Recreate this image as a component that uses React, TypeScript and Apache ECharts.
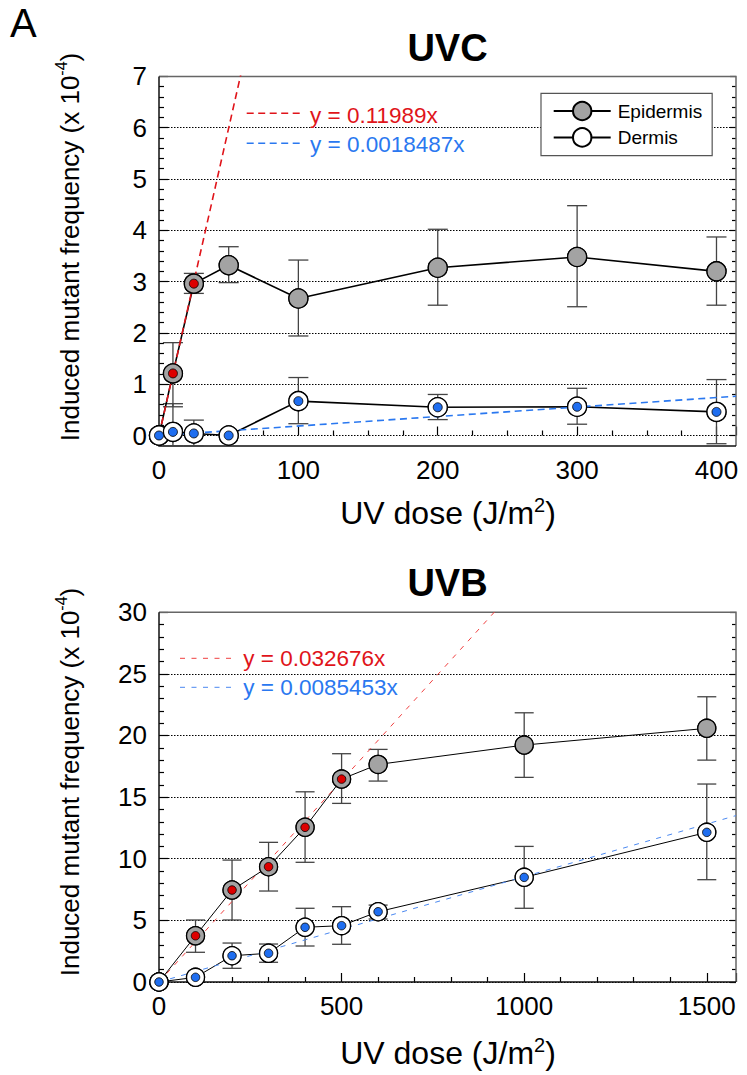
import React, { useEffect, useRef } from "react";
import * as echarts from "echarts";

const FONT = '"Liberation Sans", Arial, Helvetica, sans-serif';

// ---------- UVC data ----------
const uvcDoses = [0, 10, 25, 50, 100, 200, 300, 400];
const uvcEpi = [0, 1.21, 2.96, 3.32, 2.67, 3.27, 3.48, 3.2];
const uvcEpiLo = [0, 0.56, 2.77, 2.98, 1.94, 2.54, 2.51, 2.54];
const uvcEpiHi = [0, 1.81, 3.16, 3.68, 3.42, 4.02, 4.48, 3.87];
const uvcDerm = [0, 0.07, 0.04, 0, 0.67, 0.55, 0.56, 0.46];
const uvcDermLo = [0, -0.2, -0.2, 0, 0.23, 0.31, 0.22, -0.16];
const uvcDermHi = [0, 0.62, 0.3, 0, 1.13, 0.8, 0.92, 1.09];
const uvcFitDoses = [10, 25];
const uvcSlopeEpi = 0.11989;
const uvcSlopeDerm = 0.0018487;
const uvcEqEpi = "y = 0.11989x";
const uvcEqDerm = "y = 0.0018487x";

// ---------- UVB data ----------
const uvbDoses = [0, 100, 200, 300, 400, 500, 600, 1000, 1500];
const uvbEpi = [0, 3.75, 7.46, 9.35, 12.55, 16.46, 17.65, 19.22, 20.58];
const uvbEpiLo = [0, 2.41, 5.03, 7.38, 9.71, 14.49, 16.3, 16.6, 18.0];
const uvbEpiHi = [0, 5.03, 9.89, 11.33, 15.43, 18.52, 18.87, 21.84, 23.14];
const uvbDerm = [0, 0.38, 2.13, 2.33, 4.44, 4.57, 5.7, 8.49, 12.14];
const uvbDermLo = [0, 0.38, 1.11, 1.6, 2.92, 3.06, 5.11, 5.98, 8.3];
const uvbDermHi = [0, 0.38, 3.16, 3.08, 5.98, 6.11, 6.24, 11.0, 16.06];
const uvbFitDoses = [100, 200, 300, 400, 500];
const uvbSlopeEpi = 0.032676;
const uvbSlopeDerm = 0.0085453;
const uvbEqEpi = "y = 0.032676x";
const uvbEqDerm = "y = 0.0085453x";

// axis ranges
const uvcX = { min: 0, max: 414, interval: 100, minorSplit: 4 };
const uvcY = { min: 0, max: 7, interval: 1, minorSplit: 5 };
const uvbX = { min: 0, max: 1580, interval: 500, minorSplit: 5 };
const uvbY = { min: 0, max: 30, interval: 5, minorSplit: 5 };

const RED = "#e0141a";
const BLUE = "#2a78f0";
const DOT_BLUE = "#1f6ef0";
const GRAY = "#a3a3a3";

const pts = (xs: number[], ys: number[]) => xs.map((x, i) => [x, ys[i]]);
const bars = (xs: number[], lo: number[], hi: number[]) =>
  xs.map((x, i) => [x, lo[i], hi[i]]);
const subset = (xs: number[], ys: number[], keep: number[]) =>
  xs.map((x, i) => [x, ys[i]]).filter((p) => keep.indexOf(p[0]) >= 0);

const errRender = (capHalf: number, lw: number) => (params: any, api: any) => {
  const x = api.value(0);
  const lo = api.value(1);
  const hi = api.value(2);
  if (lo === hi) return { type: "group", children: [] };
  const a = api.coord([x, hi]);
  const b = api.coord([x, lo]);
  const style = { stroke: "#444", lineWidth: lw };
  return {
    type: "group",
    children: [
      { type: "line", shape: { x1: a[0], y1: a[1], x2: b[0], y2: b[1] }, style },
      { type: "line", shape: { x1: a[0] - capHalf, y1: a[1], x2: a[0] + capHalf, y2: a[1] }, style },
      { type: "line", shape: { x1: b[0] - capHalf, y1: b[1], x2: b[0] + capHalf, y2: b[1] }, style },
    ],
  };
};

const xAxisCfg = (gi: number, r: any, offset: number) => ({
  type: "value",
  gridIndex: gi,
  min: r.min,
  max: r.max,
  interval: r.interval,
  offset,
  axisLine: { show: false },
  axisTick: { show: true, inside: true, length: 9, lineStyle: { color: "#000", width: 1.2 } },
  minorTick: { show: true, splitNumber: r.minorSplit, length: 5, lineStyle: { color: "#000", width: 1.2 } },
  splitLine: { show: false },
  axisLabel: {
    fontSize: 26,
    fontFamily: FONT,
    color: "#000",
    margin: 11,
    showMaxLabel: false,
    formatter: (v: number) => String(v),
  },
});

const yAxisCfg = (gi: number, r: any, right: boolean) => ({
  type: "value",
  gridIndex: gi,
  min: r.min,
  max: r.max,
  interval: r.interval,
  position: right ? "right" : "left",
  axisLine: { show: false },
  axisTick: { show: true, inside: true, length: right ? 6 : 9, lineStyle: { color: "#000", width: 1.2 } },
  minorTick: { show: true, splitNumber: r.minorSplit, length: right ? 4 : 5, lineStyle: { color: "#000", width: 1.2 } },
  splitLine: right
    ? { show: false }
    : { show: true, lineStyle: { color: "#000", width: 1, type: [1.5, 1.5] } },
  axisLabel: right
    ? { show: false }
    : { fontSize: 26, fontFamily: FONT, color: "#000", margin: 12, formatter: (v: number) => String(v) },
});

function buildSeries(
  gi: number,
  doses: number[],
  epi: number[],
  epiLo: number[],
  epiHi: number[],
  derm: number[],
  dermLo: number[],
  dermHi: number[],
  fitDoses: number[],
  slopeEpi: number,
  slopeDerm: number,
  xMax: number,
  opt: { lw: number; size: number; inner: number; fitLw: number; dash: number[]; red: string; blue: string; cap: number; names: string[] }
) {
  const base = { xAxisIndex: gi, yAxisIndex: gi * 2 };
  return [
    {
      ...base,
      type: "custom",
      name: "errE" + gi,
      renderItem: errRender(opt.cap, 1.3),
      data: bars(doses, epiLo, epiHi),
      z: 2,
      silent: true,
    },
    {
      ...base,
      type: "custom",
      name: "errD" + gi,
      renderItem: errRender(opt.cap, 1.3),
      data: bars(doses, dermLo, dermHi),
      z: 2,
      silent: true,
    },
    {
      ...base,
      type: "line",
      name: opt.names[0],
      data: pts(doses, epi),
      symbol: "circle",
      symbolSize: opt.size,
      lineStyle: { color: "#000", width: opt.lw },
      itemStyle: { color: GRAY, borderColor: "#000", borderWidth: 1.3 },
      z: 3,
    },
    {
      ...base,
      type: "line",
      name: opt.names[1],
      data: pts(doses, derm),
      symbol: "circle",
      symbolSize: opt.size,
      lineStyle: { color: "#000", width: opt.lw },
      itemStyle: { color: "#fff", borderColor: "#000", borderWidth: 1.3 },
      z: 3,
    },
    {
      ...base,
      type: "line",
      name: "fitE" + gi,
      data: [
        [0, 0],
        [xMax, slopeEpi * xMax],
      ],
      showSymbol: false,
      symbol: "none",
      clip: true,
      lineStyle: { color: opt.red, width: opt.fitLw, type: opt.dash },
      z: 4,
    },
    {
      ...base,
      type: "line",
      name: "fitD" + gi,
      data: [
        [0, 0],
        [xMax, slopeDerm * xMax],
      ],
      showSymbol: false,
      symbol: "none",
      clip: true,
      lineStyle: { color: opt.blue, width: opt.fitLw, type: opt.dash },
      z: 4,
    },
    {
      ...base,
      type: "scatter",
      name: "mE" + gi,
      data: pts(doses, epi),
      symbol: "circle",
      symbolSize: opt.size,
      itemStyle: { color: GRAY, borderColor: "#000", borderWidth: 1.3, opacity: 1 },
      z: 5,
    },
    {
      ...base,
      type: "scatter",
      name: "mD" + gi,
      data: pts(doses, derm),
      symbol: "circle",
      symbolSize: opt.size,
      itemStyle: { color: "#fff", borderColor: "#000", borderWidth: 1.3, opacity: 1 },
      z: 5,
    },
    {
      ...base,
      type: "scatter",
      name: "dE" + gi,
      data: subset(doses, epi, fitDoses),
      symbol: "circle",
      symbolSize: opt.inner,
      itemStyle: { color: "#dd0000", borderColor: "#000", borderWidth: 0.8, opacity: 1 },
      z: 6,
    },
    {
      ...base,
      type: "scatter",
      name: "dD" + gi,
      data: pts(doses, derm),
      symbol: "circle",
      symbolSize: opt.inner,
      itemStyle: { color: DOT_BLUE, borderColor: "#000", borderWidth: 0.8, opacity: 1 },
      z: 6,
    },
  ];
}

const frame = (x: number, y: number, w: number, h: number) => [
  {
    type: "polyline",
    shape: { points: [[x, y], [x + w, y], [x + w, y + h]] },
    style: { stroke: "#666", lineWidth: 1.5, fill: null },
    z: 1,
  },
  {
    type: "polyline",
    shape: { points: [[x, y], [x, y + h], [x + w, y + h]] },
    style: { stroke: "#111", lineWidth: 1.5, fill: null },
    z: 1,
  },
];

const txt = (x: number, y: number, text: string, size: number, color: string, extra: any = {}) => ({
  type: "text",
  x,
  y,
  z: 10,
  style: {
    text,
    fill: color,
    fontSize: size,
    fontFamily: FONT,
    textVerticalAlign: "middle",
    ...extra,
  },
});

const eqLine = (x1: number, x2: number, y: number, color: string, lw: number, dash: number[]) => ({
  type: "line",
  z: 10,
  shape: { x1, y1: y, x2, y2: y },
  style: { stroke: color, lineWidth: lw, lineDash: dash },
});

const yName = (y: number) => ({
  type: "text",
  x: 68,
  y,
  rotation: Math.PI / 2,
  z: 10,
  style: {
    text: "{a|Induced mutant frequency (x 10}{s|-4}{a|)}",
    textAlign: "center",
    textVerticalAlign: "middle",
    fontFamily: FONT,
    rich: {
      a: { fontSize: 26, fontFamily: FONT, fill: "#000", lineHeight: 30, verticalAlign: "bottom" },
      s: { fontSize: 16, fontFamily: FONT, fill: "#000", lineHeight: 16, verticalAlign: "top" },
    },
  },
});

const xName = (y: number) => ({
  type: "text",
  x: 448,
  y,
  z: 10,
  style: {
    text: "{a|UV dose (J/m}{s|2}{a|)}",
    textAlign: "center",
    textVerticalAlign: "middle",
    fontFamily: FONT,
    rich: {
      a: { fontSize: 32, fontFamily: FONT, fill: "#000", lineHeight: 34, verticalAlign: "bottom" },
      s: { fontSize: 20, fontFamily: FONT, fill: "#000", lineHeight: 20, verticalAlign: "top" },
    },
  },
});

export default function App() {
  const ref = useRef<HTMLDivElement>(null);
  useEffect(() => {
    document.body.style.margin = "0";
    if (!ref.current) return;
    const chart = echarts.init(ref.current, null, { renderer: "svg" });

    const topGrid = { left: 159, top: 76.4, width: 577, height: 359.1 };
    const botGrid = { left: 159, top: 612.2, width: 577, height: 369.8 };

    const option: any = {
      animation: false,
      backgroundColor: "#fff",
      textStyle: { fontFamily: FONT },
      grid: [topGrid, botGrid],
      xAxis: [xAxisCfg(0, uvcX, 10.5), xAxisCfg(1, uvbX, 0)],
      yAxis: [
        yAxisCfg(0, uvcY, false),
        yAxisCfg(0, uvcY, true),
        yAxisCfg(1, uvbY, false),
        yAxisCfg(1, uvbY, true),
      ],
      legend: {
        data: ["Epidermis", "Dermis"],
        orient: "vertical",
        left: 541,
        top: 93.3,
        padding: [7.5, 10, 8, 11.7],
        itemWidth: 57,
        itemHeight: 23,
        itemGap: 6,
        borderColor: "#555",
        borderWidth: 1.2,
        backgroundColor: "#fff",
        selectedMode: false,
        textStyle: { fontSize: 19, fontFamily: FONT, color: "#000", padding: [0, 0, 0, 2] },
      },
      graphic: [
        ...frame(159, 76.4, 577, 369.6),
        ...frame(159, 612.2, 577, 369.8),
        txt(10, 23, "A", 40, "#000"),
        txt(447.5, 48, "UVC", 38, "#000", { textAlign: "center", fontWeight: "bold" }),
        txt(447.5, 583, "UVB", 38, "#000", { textAlign: "center", fontWeight: "bold" }),
        eqLine(246.7, 303.3, 113.3, RED, 1.6, [7, 4.5]),
        txt(310, 115, uvcEqEpi, 22.5, RED),
        eqLine(246.7, 303.3, 143.3, BLUE, 1.6, [7, 4.5]),
        txt(310, 144.2, uvcEqDerm, 22.5, BLUE),
        eqLine(180, 236.7, 658.3, "#f04040", 1, [5, 6.5]),
        txt(243.3, 658.3, uvbEqEpi, 22.5, RED),
        eqLine(180, 236.7, 687.3, "#4a88f0", 1, [5, 6.5]),
        txt(243.3, 687.5, uvbEqDerm, 22.5, BLUE),
        yName(247),
        yName(782),
        xName(511.5),
        xName(1051.5),
      ],
      series: [
        ...buildSeries(0, uvcDoses, uvcEpi, uvcEpiLo, uvcEpiHi, uvcDerm, uvcDermLo, uvcDermHi, uvcFitDoses, uvcSlopeEpi, uvcSlopeDerm, uvcX.max, {
          lw: 1.6,
          size: 19,
          inner: 9,
          fitLw: 1.6,
          dash: [7, 4.5],
          red: RED,
          blue: BLUE,
          cap: 10,
          names: ["Epidermis", "Dermis"],
        }),
        ...buildSeries(1, uvbDoses, uvbEpi, uvbEpiLo, uvbEpiHi, uvbDerm, uvbDermLo, uvbDermHi, uvbFitDoses, uvbSlopeEpi, uvbSlopeDerm, uvbX.max, {
          lw: 1,
          size: 18,
          inner: 8.5,
          fitLw: 1,
          dash: [5, 6.5],
          red: "#f04040",
          blue: "#4a88f0",
          cap: 9.5,
          names: ["Epidermis UVB", "Dermis UVB"],
        }),
      ],
    };
    chart.setOption(option);
    return () => chart.dispose();
  }, []);
  return <div ref={ref} style={{ width: 747, height: 1075 }} />;
}
